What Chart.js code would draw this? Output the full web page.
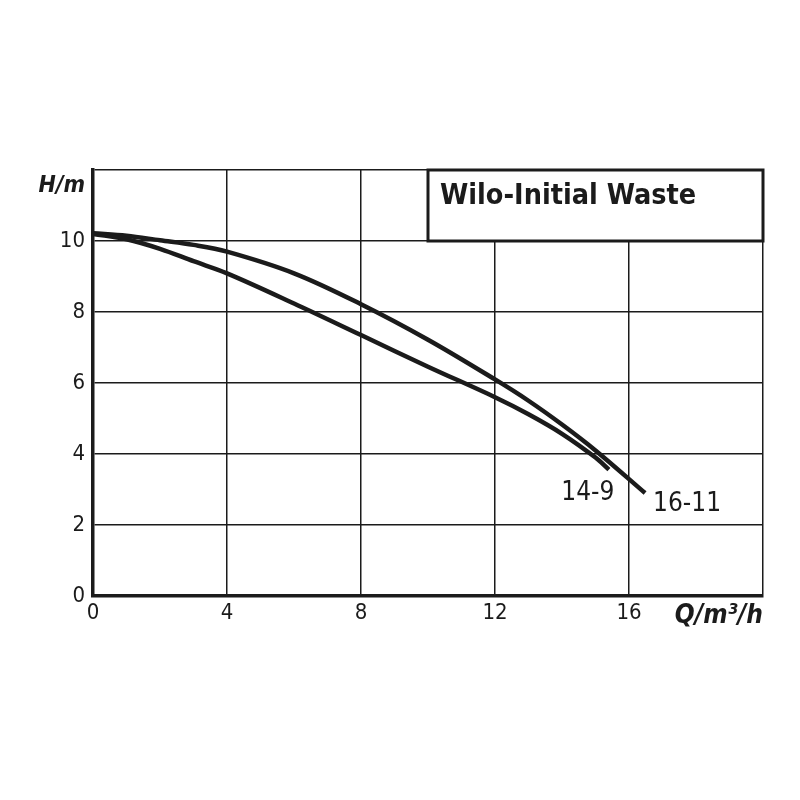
<!DOCTYPE html>
<html>
<head>
<meta charset="utf-8">
<script src="https://cdn.jsdelivr.net/npm/chart.js@4/dist/chart.umd.min.js"></script>
<style>
  body { margin: 0; background: #fff; }
  canvas { display: block; }
</style>
</head>
<body>
<canvas id="pumpChart" width="800" height="800"></canvas>
<script>
// pump curves (Q in m3/h, H in m)
const q_14_9 = [0, 1, 2, 3, 4, 6, 8, 10, 12, 13, 14, 15, 15.4];
const h_14_9 = [10.2, 10.05, 9.78, 9.43, 9.09, 8.24, 7.35, 6.46, 5.6, 5.12, 4.57, 3.9, 3.56];
const q_16_11 = [0, 1, 2, 3, 4, 6, 8, 10, 12, 13, 14, 15, 16.48];
const h_16_11 = [10.22, 10.15, 10.02, 9.89, 9.7, 9.09, 8.22, 7.22, 6.1, 5.5, 4.83, 4.1, 2.9];
const curveNames = ['14-9', '16-11'];
const xTicks = [0, 4, 8, 12, 16];
const yTicks = [0, 2, 4, 6, 8, 10];
const chartTitle = 'Wilo-Initial Waste';

const FONT = '"Liberation Sans Narrow", "DejaVu Sans Condensed", "Noto Sans", sans-serif';
const INK = '#1b1b1b';

function toPoints(xs, ys) {
  return xs.map((x, i) => ({ x: x, y: ys[i] }));
}

// title box, curve labels and axis units
const annotations = {
  id: 'annotations',
  afterDraw(chart) {
    const { ctx, scales: { x, y } } = chart;
    ctx.save();

    // title box in the top right cell
    const bx = x.getPixelForValue(10), by = y.getPixelForValue(12);
    const bw = x.getPixelForValue(20) - bx, bh = y.getPixelForValue(10) - by;
    ctx.fillStyle = '#fff';
    ctx.fillRect(bx, by, bw, bh);
    ctx.strokeStyle = INK;
    ctx.lineWidth = 3;
    ctx.strokeRect(bx, by, bw, bh);
    ctx.fillStyle = INK;
    ctx.font = 'bold 28.5px ' + FONT;
    ctx.textBaseline = 'middle';
    ctx.textAlign = 'left';
    ctx.fillText(chartTitle, bx + 12, by + 27);

    // curve names next to their end points
    ctx.font = '26px ' + FONT;
    ctx.textAlign = 'center';
    const last1 = q_14_9.length - 1, last2 = q_16_11.length - 1;
    ctx.fillText(curveNames[0], x.getPixelForValue(q_14_9[last1]) - 21, y.getPixelForValue(h_14_9[last1]) + 24);
    ctx.fillText(curveNames[1], x.getPixelForValue(q_16_11[last2]) + 42, y.getPixelForValue(h_16_11[last2]) + 11);

    // axis units
    ctx.font = 'bold italic 23px ' + FONT;
    ctx.textAlign = 'right';
    ctx.fillText('H/m', x.left - 8, y.getPixelForValue(12) + 16);
    ctx.font = 'bold italic 26px ' + FONT;
    ctx.fillText('Q/m\u00b3/h', x.right, y.bottom + 20);
    ctx.restore();
  }
};

const whiteBg = {
  id: 'whiteBg',
  beforeDraw(chart) {
    const ctx = chart.ctx;
    ctx.save();
    ctx.fillStyle = '#fff';
    ctx.fillRect(0, 0, chart.width, chart.height);
    ctx.restore();
  }
};

new Chart(document.getElementById('pumpChart'), {
  type: 'line',
  data: {
    datasets: [
      {
        label: curveNames[0],
        data: toPoints(q_14_9, h_14_9),
        borderColor: INK,
        borderWidth: 4.5,
        pointRadius: 0,
        tension: 0.35
      },
      {
        label: curveNames[1],
        data: toPoints(q_16_11, h_16_11),
        borderColor: INK,
        borderWidth: 4.5,
        pointRadius: 0,
        tension: 0.35
      }
    ]
  },
  options: {
    responsive: false,
    devicePixelRatio: 1,
    animation: false,
    layout: { padding: { top: 170, right: 37, left: 0, bottom: 0 } },
    plugins: { legend: { display: false }, tooltip: { enabled: false } },
    scales: {
      x: {
        type: 'linear',
        min: 0,
        max: 20,
        afterFit(scale) { scale.height = 204; },
        afterBuildTicks(scale) { scale.ticks = xTicks.concat([20]).map(v => ({ value: v })); },
        ticks: {
          color: INK,
          padding: 4,
          maxRotation: 0,
          font: { family: FONT, size: 22 },
          callback: v => (xTicks.includes(v) ? String(v) : '')
        },
        grid: { color: INK, lineWidth: 1.5, drawTicks: false },
        border: { color: INK, width: 3.5 }
      },
      y: {
        type: 'linear',
        min: 0,
        max: 12,
        afterFit(scale) { scale.width = 93; },
        afterBuildTicks(scale) { scale.ticks = yTicks.concat([12]).map(v => ({ value: v })); },
        ticks: {
          color: INK,
          padding: 8,
          font: { family: FONT, size: 22 },
          callback: v => (yTicks.includes(v) ? String(v) : '')
        },
        grid: { color: INK, lineWidth: 1.5, drawTicks: false },
        border: { color: INK, width: 3.5 }
      }
    }
  },
  plugins: [whiteBg, annotations]
});
</script>
</body>
</html>
